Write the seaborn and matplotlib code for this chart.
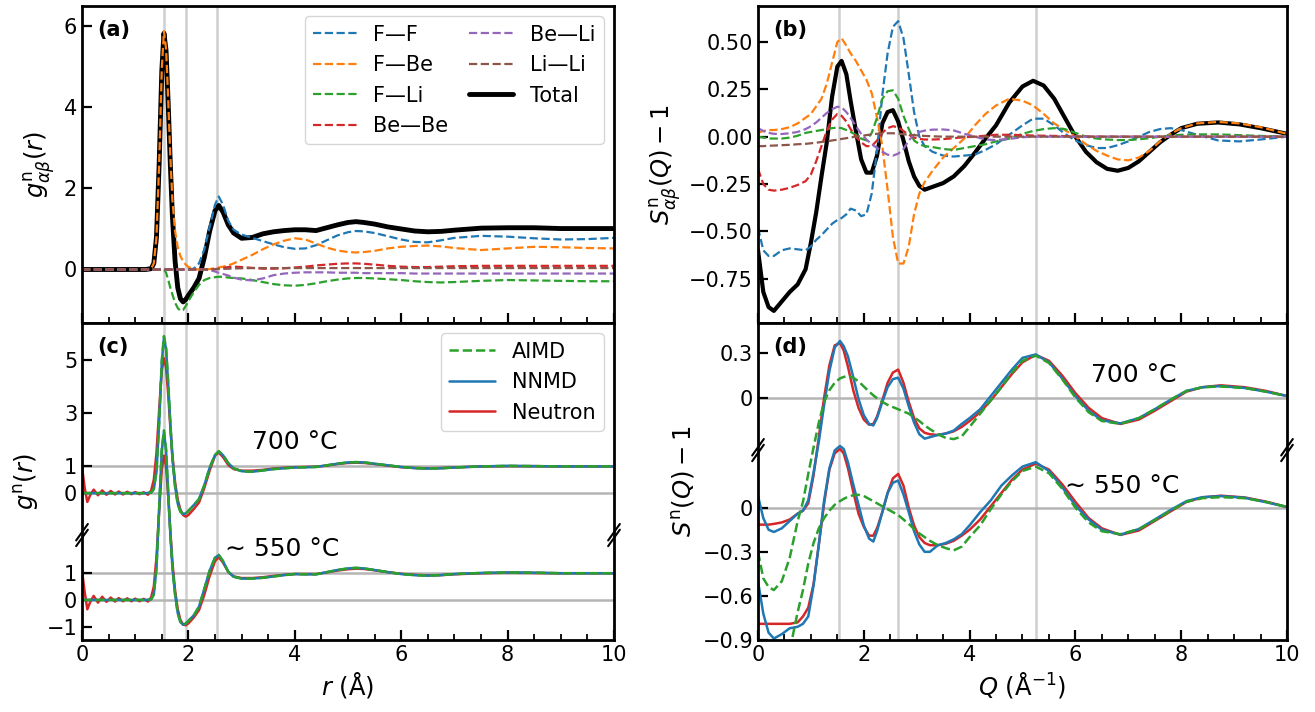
import numpy as np
import matplotlib
matplotlib.use("Agg")
import matplotlib.pyplot as plt
from matplotlib.ticker import MultipleLocator
import seaborn as sns

# ---------------- (a) partial g(r), MD; same r grid used for MD curves in (c)
r_grid = [0, 1.2, 1.3, 1.35, 1.4, 1.45, 1.5, 1.54, 1.58, 1.62,
          1.66, 1.7, 1.75, 1.8, 1.85, 1.9, 1.95, 2.0, 2.1, 2.2,
          2.3, 2.4, 2.5, 2.57, 2.65, 2.75, 2.85, 3.0, 3.2, 3.4,
          3.6, 3.8, 4.0, 4.2, 4.4, 4.6, 4.8, 5.0, 5.15, 5.3,
          5.5, 5.75, 6.0, 6.25, 6.5, 6.75, 7.0, 7.5, 8.0, 8.5,
          9.0, 9.5, 10.0]

g_total = [0, 0, 0.02, 0.15, 0.8, 2.6, 4.9, 5.83, 5.4, 4.1,
           2.6, 1.3, 0.2, -0.45, -0.72, -0.80, -0.74, -0.64, -0.45, -0.22,
           0.3, 0.95, 1.45, 1.58, 1.42, 1.1, 0.9, 0.77, 0.79, 0.88,
           0.93, 0.96, 0.98, 0.98, 0.96, 1.03, 1.1, 1.16, 1.18, 1.16,
           1.12, 1.05, 1.0, 0.95, 0.93, 0.94, 0.97, 1.02, 1.03, 1.03,
           1.01, 1.01, 1.01]
g_FF = [0, 0, 0, 0, 0, 0, 0, 0, 0, 0,
        0, 0, 0, 0, 0, 0, 0, 0, 0.02, 0.15,
        0.5, 1.05, 1.6, 1.8, 1.6, 1.2, 0.98, 0.86, 0.78, 0.7,
        0.62, 0.55, 0.51, 0.52, 0.6, 0.72, 0.84, 0.92, 0.95, 0.94,
        0.9, 0.82, 0.74, 0.68, 0.67, 0.72, 0.78, 0.83, 0.81, 0.77,
        0.74, 0.75, 0.78]
g_FBe = [0, 0, 0.02, 0.15, 0.8, 2.6, 4.95, 5.88, 5.45, 4.2,
         2.8, 1.7, 0.95, 0.55, 0.33, 0.2, 0.12, 0.06, 0.01, 0.0,
         0.0, 0.01, 0.03, 0.05, 0.07, 0.1, 0.15, 0.24, 0.36, 0.5,
         0.62, 0.71, 0.77, 0.74, 0.64, 0.54, 0.47, 0.43, 0.42, 0.43,
         0.46, 0.52, 0.56, 0.58, 0.59, 0.57, 0.53, 0.48, 0.52, 0.56,
         0.55, 0.53, 0.52]
g_FLi = [0, 0, 0, 0, 0, 0, 0, 0, -0.08, -0.25,
         -0.45, -0.62, -0.82, -0.95, -1.02, -1.0, -0.9, -0.78, -0.56, -0.38,
         -0.26, -0.21, -0.19, -0.18, -0.18, -0.2, -0.21, -0.22, -0.26, -0.31,
         -0.36, -0.39, -0.4, -0.38, -0.34, -0.29, -0.25, -0.22, -0.21, -0.21,
         -0.22, -0.24, -0.26, -0.29, -0.31, -0.32, -0.31, -0.28, -0.26, -0.27,
         -0.28, -0.29, -0.29]
g_BeBe = [0, 0, 0, 0, 0, 0, 0, 0, 0, 0,
          0, 0, 0, 0, 0, 0, 0, 0, 0, 0,
          0, 0, 0.01, 0.02, 0.04, 0.06, 0.07, 0.06, 0.04, 0.02,
          0.02, 0.03, 0.05, 0.07, 0.1, 0.12, 0.14, 0.15, 0.15, 0.14,
          0.12, 0.09, 0.07, 0.06, 0.06, 0.07, 0.08, 0.09, 0.09, 0.09,
          0.09, 0.09, 0.09]
g_BeLi = [0, 0, 0, 0, 0, 0, 0, 0, 0, 0,
          0, 0, 0, 0, 0, 0, 0, 0, 0, 0,
          0, -0.01, -0.05, -0.08, -0.11, -0.15, -0.2, -0.25, -0.27, -0.22,
          -0.14, -0.1, -0.08, -0.07, -0.07, -0.07, -0.08, -0.08, -0.08, -0.09,
          -0.09, -0.09, -0.09, -0.1, -0.1, -0.1, -0.1, -0.1, -0.1, -0.1,
          -0.1, -0.1, -0.1]
g_LiLi = [0, 0, 0, 0, 0, 0, 0, 0, 0, 0,
          0, 0, 0, 0, 0, 0, 0, 0, 0, 0,
          0, 0, 0.005, 0.01, 0.015, 0.02, 0.025, 0.03, 0.035, 0.035,
          0.035, 0.035, 0.035, 0.035, 0.035, 0.035, 0.035, 0.035, 0.035, 0.035,
          0.035, 0.035, 0.035, 0.035, 0.035, 0.035, 0.035, 0.035, 0.035, 0.035,
          0.035, 0.035, 0.035]

# ---------------- (b) partial S(Q)-1
q_grid = [0, 0.1, 0.2, 0.3, 0.45, 0.6, 0.75, 0.9, 1.0, 1.1,
          1.2, 1.3, 1.4, 1.5, 1.58, 1.67, 1.75, 1.85, 1.95, 2.05,
          2.15, 2.25, 2.35, 2.45, 2.55, 2.65, 2.75, 2.85, 2.95, 3.05,
          3.15, 3.3, 3.5, 3.7, 3.9, 4.1, 4.3, 4.5, 4.75, 5.0,
          5.2, 5.4, 5.6, 5.8, 6.0, 6.2, 6.4, 6.6, 6.8, 7.0,
          7.2, 7.4, 7.6, 7.8, 8.0, 8.3, 8.7, 9.1, 9.5, 10.0]

s_total = [-0.6, -0.82, -0.9, -0.92, -0.87, -0.82, -0.78, -0.7, -0.56, -0.4,
           -0.21, -0.03, 0.21, 0.37, 0.40, 0.33, 0.19, 0.03, -0.12, -0.19,
           -0.19, -0.1, 0.07, 0.13, 0.14, 0.08, -0.02, -0.13, -0.21, -0.26,
           -0.28, -0.265, -0.245, -0.21, -0.155, -0.085, -0.01, 0.06, 0.18, 0.265,
           0.295, 0.27, 0.2, 0.1, 0.0, -0.08, -0.135, -0.17, -0.18, -0.165,
           -0.13, -0.08, -0.03, 0.01, 0.045, 0.068, 0.075, 0.065, 0.045, 0.015]
s_FF = [-0.48, -0.6, -0.63, -0.63, -0.6, -0.59, -0.595, -0.6, -0.58, -0.545,
        -0.52, -0.49, -0.46, -0.44, -0.43, -0.41, -0.38, -0.39, -0.42, -0.41,
        -0.3, -0.07, 0.22, 0.44, 0.58, 0.61, 0.52, 0.33, 0.13, 0.0,
        -0.05, -0.08, -0.1, -0.105, -0.1, -0.095, -0.07, -0.04, 0.01, 0.06,
        0.095, 0.095, 0.06, 0.015, -0.02, -0.045, -0.06, -0.06, -0.045, -0.025,
        0.0, 0.025, 0.04, 0.045, 0.035, 0.01, -0.02, -0.025, -0.015, 0.0]
s_FBe = [0.02, 0.03, 0.035, 0.035, 0.04, 0.05, 0.07, 0.1, 0.12, 0.16,
         0.2, 0.28, 0.39, 0.5, 0.52, 0.48, 0.44, 0.4, 0.35, 0.3,
         0.23, 0.1, -0.05, -0.28, -0.53, -0.67, -0.67, -0.58, -0.41, -0.3,
         -0.24, -0.18, -0.11, -0.06, -0.01, 0.06, 0.12, 0.165, 0.2, 0.19,
         0.165, 0.12, 0.07, 0.035, 0.0, -0.04, -0.075, -0.1, -0.12, -0.125,
         -0.11, -0.075, -0.025, 0.015, 0.045, 0.07, 0.078, 0.07, 0.05, 0.015]
s_FLi = [0.0, -0.005, -0.01, -0.01, -0.01, -0.005, 0.005, 0.02, 0.025, 0.03,
         0.035, 0.04, 0.045, 0.048, 0.045, 0.035, 0.025, 0.01, -0.01, -0.02,
         0.02, 0.1, 0.2, 0.24, 0.245, 0.2, 0.11, 0.04, -0.02, -0.04,
         -0.05, -0.055, -0.065, -0.07, -0.06, -0.05, -0.04, -0.025, -0.01, 0.015,
         0.03, 0.04, 0.045, 0.04, 0.02, 0.0, -0.01, -0.015, -0.018, -0.018,
         -0.014, -0.008, 0.0, 0.006, 0.01, 0.012, 0.012, 0.008, 0.004, 0.0]
s_BeBe = [-0.17, -0.25, -0.28, -0.285, -0.28, -0.27, -0.255, -0.235, -0.2, -0.13,
          -0.05, 0.03, 0.09, 0.12, 0.11, 0.08, 0.04, 0.0, -0.03, -0.05,
          -0.05, -0.02, 0.02, 0.045, 0.055, 0.05, 0.03, 0.01, -0.005, -0.012,
          -0.015, -0.015, -0.013, -0.008, -0.003, 0.0, 0.005, 0.01, 0.01, 0.008,
          0.006, 0.005, 0.004, 0.003, 0.002, 0.001, 0.0, 0.0, 0.0, 0.0,
          0.0, 0.0, 0.0, 0.0, 0.0, 0.0, 0.0, 0.0, 0.0, 0.0]
s_BeLi = [0.045, 0.03, 0.02, 0.015, 0.014, 0.018, 0.025, 0.04, 0.055, 0.075,
          0.1, 0.125, 0.145, 0.158, 0.155, 0.13, 0.1, 0.055, 0.015, -0.015,
          -0.04, -0.06, -0.08, -0.095, -0.1, -0.09, -0.065, -0.02, 0.01, 0.025,
          0.032, 0.037, 0.038, 0.033, 0.015, 0.0, -0.015, -0.018, -0.012, -0.003,
          0.0, 0.0, 0.0, 0.0, 0.0, 0.0, 0.0, 0.0, 0.0, 0.0,
          0.0, 0.0, 0.0, 0.0, 0.0, 0.0, 0.0, 0.0, 0.0, 0.0]
s_LiLi = [-0.05, -0.05, -0.048, -0.047, -0.045, -0.043, -0.04, -0.038, -0.035, -0.032,
          -0.028, -0.025, -0.02, -0.016, -0.012, -0.008, -0.004, 0.0, 0.004, 0.008,
          0.012, 0.015, 0.017, 0.018, 0.018, 0.016, 0.013, 0.01, 0.008, 0.006,
          0.004, 0.002, 0.0, 0.0, 0.0, 0.0, 0.0, 0.0, 0.0, 0.0,
          0.0, 0.0, 0.0, 0.0, 0.0, 0.0, 0.0, 0.0, 0.0, 0.0,
          0.0, 0.0, 0.0, 0.0, 0.0, 0.0, 0.0, 0.0, 0.0, 0.0]

# ---------------- (c) total g(r): AIMD / NNMD on r_grid, neutron on its own grid
gn_nnmd_700 = [0, 0, 0.02, 0.15, 0.8, 2.6, 4.9, 5.83, 5.4, 4.1,
               2.6, 1.3, 0.25, -0.4, -0.68, -0.78, -0.76, -0.66, -0.45, -0.22,
               0.3, 0.95, 1.42, 1.56, 1.42, 1.12, 0.93, 0.82, 0.8, 0.85,
               0.9, 0.93, 0.96, 0.97, 0.98, 1.04, 1.1, 1.15, 1.16, 1.15,
               1.1, 1.04, 0.98, 0.94, 0.92, 0.93, 0.96, 1.0, 1.02, 1.01,
               1.0, 1.0, 1.0]
gn_aimd_700 = [0, 0, 0.02, 0.16, 0.82, 2.65, 4.95, 5.88, 5.45, 4.15,
               2.62, 1.3, 0.24, -0.42, -0.7, -0.8, -0.77, -0.67, -0.46, -0.22,
               0.3, 0.96, 1.43, 1.57, 1.43, 1.12, 0.93, 0.82, 0.8, 0.85,
               0.9, 0.93, 0.96, 0.97, 0.98, 1.04, 1.1, 1.15, 1.16, 1.15,
               1.1, 1.04, 0.98, 0.94, 0.92, 0.93, 0.96, 1.0, 1.02, 1.01,
               1.0, 1.0, 1.0]
gn_nnmd_550 = [0, 0, 0.02, 0.2, 1.2, 3.4, 5.6, 6.3, 5.6, 4.0,
               2.5, 1.2, 0.2, -0.5, -0.82, -0.93, -0.88, -0.78, -0.58, -0.25,
               0.42, 1.1, 1.58, 1.68, 1.45, 1.05, 0.87, 0.8, 0.8, 0.83,
               0.88, 0.93, 0.97, 0.96, 0.96, 1.04, 1.12, 1.18, 1.2, 1.18,
               1.12, 1.04, 0.97, 0.93, 0.91, 0.93, 0.97, 1.01, 1.03, 1.02,
               1.0, 1.0, 1.0]
gn_aimd_550 = [0, 0, 0.02, 0.21, 1.22, 3.45, 5.65, 6.35, 5.65, 4.05,
               2.52, 1.2, 0.2, -0.5, -0.83, -0.94, -0.89, -0.79, -0.58, -0.25,
               0.42, 1.1, 1.58, 1.69, 1.46, 1.05, 0.87, 0.8, 0.8, 0.83,
               0.88, 0.93, 0.97, 0.96, 0.96, 1.04, 1.12, 1.18, 1.2, 1.18,
               1.12, 1.04, 0.97, 0.93, 0.91, 0.93, 0.97, 1.01, 1.03, 1.02,
               1.0, 1.0, 1.0]

r_neu = [0, 0.05, 0.1, 0.16, 0.22, 0.3, 0.38, 0.46, 0.54, 0.62,
         0.69, 0.77, 0.85, 0.93, 1.0, 1.08, 1.16, 1.24,
         1.3, 1.35, 1.4, 1.45, 1.5, 1.54, 1.58, 1.62, 1.66, 1.7,
         1.75, 1.8, 1.85, 1.9, 1.95, 2.0, 2.1, 2.2, 2.3, 2.4,
         2.5, 2.57, 2.65, 2.75, 2.85, 3.0, 3.2, 3.4, 3.6, 3.8,
         4.0, 4.2, 4.4, 4.6, 4.8, 5.0, 5.15, 5.3, 5.5, 5.75,
         6.0, 6.25, 6.5, 6.75, 7.0, 7.5, 8.0, 8.5, 9.0, 9.5, 10.0]
gn_neu_700 = [1.0, 0.2, -0.33, -0.05, 0.13, -0.08, 0.1, -0.06, 0.08, -0.05,
              0.06, -0.05, 0.05, -0.04, 0.04, -0.04, 0.03, -0.06,
              0.1, 0.5, 1.5, 3.1, 4.6, 5.05, 4.7, 3.7, 2.5, 1.4,
              0.4, -0.25, -0.62, -0.82, -0.88, -0.82, -0.6, -0.35, 0.2, 0.85,
              1.4, 1.52, 1.35, 1.05, 0.9, 0.84, 0.84, 0.87, 0.92, 0.95,
              0.97, 0.98, 0.99, 1.03, 1.09, 1.13, 1.14, 1.13, 1.09, 1.03,
              0.97, 0.94, 0.93, 0.94, 0.96, 1.0, 1.01, 1.01, 1.0, 1.0, 1.0]
gn_neu_550 = [1.1, 0.3, -0.35, -0.05, 0.15, -0.1, 0.12, -0.07, 0.09, -0.06,
              0.07, -0.05, 0.06, -0.05, 0.05, -0.05, 0.04, -0.06,
              0.1, 0.5, 1.6, 3.3, 4.9, 5.4, 5.0, 3.9, 2.6, 1.4,
              0.35, -0.35, -0.75, -0.92, -0.95, -0.88, -0.66, -0.38, 0.2, 0.9,
              1.45, 1.6, 1.4, 1.05, 0.88, 0.82, 0.82, 0.85, 0.9, 0.94,
              0.97, 0.97, 0.97, 1.03, 1.1, 1.15, 1.17, 1.16, 1.11, 1.04,
              0.98, 0.94, 0.92, 0.93, 0.96, 1.0, 1.02, 1.01, 1.0, 1.0, 1.0]

# ---------------- (d) total S(Q)-1
qd_grid = [0, 0.1, 0.2, 0.3, 0.45, 0.6, 0.75, 0.85, 0.95, 1.05,
           1.15, 1.25, 1.35, 1.45, 1.55, 1.62, 1.7, 1.8, 1.9, 2.0,
           2.1, 2.18, 2.25, 2.35, 2.45, 2.55, 2.65, 2.75, 2.85, 2.95,
           3.05, 3.15, 3.25, 3.4, 3.55, 3.7, 3.85, 4.0, 4.2, 4.4,
           4.6, 4.8, 5.0, 5.25, 5.5, 5.75, 6.0, 6.25, 6.5, 6.85,
           7.2, 7.5, 7.8, 8.1, 8.4, 8.75, 9.2, 9.6, 10.0]

sn_nnmd_700 = [-0.67, -0.82, -0.9, -0.915, -0.89, -0.84, -0.79, -0.77, -0.7, -0.51,
               -0.3, -0.05, 0.18, 0.34, 0.385, 0.35, 0.28, 0.14, -0.01, -0.12,
               -0.18, -0.19, -0.14, -0.03, 0.07, 0.125, 0.135, 0.06, -0.06, -0.17,
               -0.25, -0.28, -0.27, -0.255, -0.245, -0.225, -0.18, -0.14, -0.08, 0.01,
               0.1, 0.19, 0.27, 0.293, 0.24, 0.13, 0.01, -0.09, -0.155, -0.176,
               -0.14, -0.08, -0.015, 0.045, 0.07, 0.078, 0.065, 0.04, 0.01]
sn_neu_700 = [-0.865, -0.865, -0.865, -0.86, -0.85, -0.83, -0.79, -0.77, -0.72, -0.53,
              -0.27, 0.0, 0.22, 0.355, 0.37, 0.32, 0.21, 0.05, -0.07, -0.15,
              -0.185, -0.18, -0.13, -0.02, 0.1, 0.17, 0.19, 0.1, -0.03, -0.14,
              -0.21, -0.24, -0.25, -0.255, -0.245, -0.23, -0.2, -0.16, -0.1, -0.02,
              0.07, 0.16, 0.24, 0.29, 0.25, 0.15, 0.03, -0.07, -0.14, -0.18,
              -0.15, -0.09, -0.025, 0.04, 0.07, 0.083, 0.07, 0.045, 0.01]
sn_aimd_700 = [-1.05, -1.23, -1.29, -1.31, -1.25, -1.09, -0.84, -0.71, -0.52, -0.34,
               -0.17, -0.03, 0.05, 0.1, 0.13, 0.14, 0.146, 0.135, 0.11, 0.075,
               0.04, 0.015, -0.005, -0.03, -0.05, -0.065, -0.08, -0.095, -0.11, -0.135,
               -0.16, -0.19, -0.215, -0.25, -0.275, -0.283, -0.265, -0.2, -0.11, -0.02,
               0.07, 0.17, 0.25, 0.285, 0.235, 0.125, 0.0, -0.1, -0.16, -0.18,
               -0.14, -0.08, -0.015, 0.045, 0.07, 0.075, 0.065, 0.04, 0.01]
sn_nnmd_550 = [-0.5, -0.72, -0.85, -0.89, -0.86, -0.82, -0.81, -0.79, -0.74, -0.53,
               -0.25, 0.05, 0.27, 0.39, 0.42, 0.4, 0.31, 0.16, 0.02, -0.12,
               -0.21, -0.23, -0.16, -0.03, 0.1, 0.17, 0.185, 0.09, -0.03, -0.16,
               -0.25, -0.3, -0.3, -0.255, -0.24, -0.215, -0.18, -0.12, -0.03, 0.05,
               0.15, 0.22, 0.28, 0.31, 0.25, 0.14, 0.015, -0.08, -0.15, -0.183,
               -0.145, -0.08, -0.015, 0.045, 0.072, 0.079, 0.068, 0.038, 0.005]
sn_neu_550 = [-0.79, -0.79, -0.79, -0.79, -0.79, -0.79, -0.78, -0.74, -0.68, -0.52,
              -0.25, 0.03, 0.26, 0.37, 0.4, 0.37, 0.27, 0.11, -0.04, -0.13,
              -0.19, -0.19, -0.14, -0.03, 0.1, 0.2, 0.23, 0.15, 0.0, -0.12,
              -0.2, -0.24, -0.255, -0.255, -0.245, -0.225, -0.19, -0.15, -0.08, 0.01,
              0.1, 0.19, 0.26, 0.3, 0.26, 0.16, 0.04, -0.07, -0.14, -0.185,
              -0.155, -0.09, -0.025, 0.04, 0.07, 0.082, 0.07, 0.042, 0.005]
sn_aimd_550 = [-1.45, -1.45, -1.42, -1.38, -1.25, -0.97, -0.71, -0.56, -0.38, -0.24,
               -0.14, -0.07, -0.02, 0.02, 0.045, 0.06, 0.075, 0.085, 0.088, 0.08,
               0.06, 0.045, 0.03, 0.01, -0.01, -0.03, -0.05, -0.08, -0.11, -0.145,
               -0.175, -0.2, -0.225, -0.255, -0.275, -0.29, -0.265, -0.2, -0.12, -0.01,
               0.09, 0.18, 0.25, 0.28, 0.235, 0.13, 0.0, -0.1, -0.16, -0.18,
               -0.145, -0.085, -0.02, 0.04, 0.065, 0.072, 0.065, 0.04, 0.005]

pair_labels = ["F\u2014F", "F\u2014Be", "F\u2014Li", "Be\u2014Be", "Be\u2014Li", "Li\u2014Li"]
r_marks = [1.54, 1.95, 2.54]
q_marks = [1.54, 2.65, 5.25]
off_c = 4.0    # shift of the 700 C curves in (c)
off_d = 0.75   # shift of the 700 C curves in (d)

sns.set_theme(style="ticks")
plt.rcParams.update({
    "axes.edgecolor": "black", "axes.labelcolor": "black", "text.color": "black",
    "xtick.color": "black", "ytick.color": "black",
    "xtick.labelsize": 15, "ytick.labelsize": 15, "axes.labelsize": 17.5,
    "legend.fontsize": 15, "axes.linewidth": 2.0,
})
plt.rcParams["font.family"] = ["DejaVu Sans"]
pal = sns.color_palette("tab10")

W, H = 1315, 712
fig = plt.figure(figsize=(W / 100, H / 100), dpi=100)
ax_a = fig.add_axes([82 / W, 389 / H, 532 / W, 317 / H])
ax_c = fig.add_axes([82 / W, 72 / H, 532 / W, 317 / H])
ax_b = fig.add_axes([758 / W, 389 / H, 529 / W, 317 / H])
ax_d = fig.add_axes([758 / W, 72 / H, 529 / W, 317 / H])

for ax, marks in [(ax_a, r_marks), (ax_c, r_marks), (ax_b, q_marks), (ax_d, q_marks)]:
    for m in marks:
        ax.axvline(m, color="#cfcfcf", lw=1.8, zorder=0)

# (a)
sns.lineplot(x=r_grid, y=g_total, ax=ax_a, color="black", lw=3.5, label="Total")
for lab, vals, col in zip(pair_labels, [g_FF, g_FBe, g_FLi, g_BeBe, g_BeLi, g_LiLi], pal):
    sns.lineplot(x=r_grid, y=vals, ax=ax_a, color=col, lw=1.6, linestyle="--", label=lab)
h, l = ax_a.get_legend_handles_labels()
hd = dict(zip(l, h))
order = pair_labels + ["Total"]
ax_a.legend([hd[k] for k in order], order, loc="upper right", ncol=2, frameon=True,
            handlelength=2.1, columnspacing=1.0)

# (b)
sns.lineplot(x=q_grid, y=s_total, ax=ax_b, color="black", lw=3.0, legend=False)
for vals, col in zip([s_FF, s_FBe, s_FLi, s_BeBe, s_BeLi, s_LiLi], pal):
    sns.lineplot(x=q_grid, y=vals, ax=ax_b, color=col, lw=1.6, linestyle="--", legend=False)

# (c)
for y0 in [0, 1, off_c, off_c + 1]:
    ax_c.axhline(y0, color="#b5b5b5", lw=1.8, zorder=0.5)
sns.lineplot(x=r_neu, y=gn_neu_550, ax=ax_c, color=pal[3], lw=1.8)
sns.lineplot(x=r_neu, y=np.array(gn_neu_700) + off_c, ax=ax_c, color=pal[3], lw=1.8, label="Neutron")
sns.lineplot(x=r_grid, y=gn_nnmd_550, ax=ax_c, color=pal[0], lw=1.8)
sns.lineplot(x=r_grid, y=np.array(gn_nnmd_700) + off_c, ax=ax_c, color=pal[0], lw=1.8, label="NNMD")
sns.lineplot(x=r_grid, y=gn_aimd_550, ax=ax_c, color=pal[2], lw=1.8, linestyle="--")
sns.lineplot(x=r_grid, y=np.array(gn_aimd_700) + off_c, ax=ax_c, color=pal[2], lw=1.8,
             linestyle="--", label="AIMD")
h, l = ax_c.get_legend_handles_labels()
hd = dict(zip(l, h))
order = ["AIMD", "NNMD", "Neutron"]
ax_c.legend([hd[k] for k in order], order, loc="upper right", frameon=True, handlelength=2.2)
ax_c.text(3.2, off_c + 1.9, "700 °C", fontsize=18, va="center")
ax_c.text(2.68, 1.9, "\u223c 550 °C", fontsize=18, va="center")

# (d)
for y0 in [0, off_d]:
    ax_d.axhline(y0, color="#b5b5b5", lw=1.8, zorder=0.5)
sns.lineplot(x=qd_grid, y=sn_neu_550, ax=ax_d, color=pal[3], lw=1.8, legend=False)
sns.lineplot(x=qd_grid, y=np.array(sn_neu_700) + off_d, ax=ax_d, color=pal[3], lw=1.8, legend=False)
sns.lineplot(x=qd_grid, y=sn_nnmd_550, ax=ax_d, color=pal[0], lw=1.8, legend=False)
sns.lineplot(x=qd_grid, y=np.array(sn_nnmd_700) + off_d, ax=ax_d, color=pal[0], lw=1.8, legend=False)
sns.lineplot(x=qd_grid, y=sn_aimd_550, ax=ax_d, color=pal[2], lw=1.8, linestyle="--", legend=False)
sns.lineplot(x=qd_grid, y=np.array(sn_aimd_700) + off_d, ax=ax_d, color=pal[2], lw=1.8,
             linestyle="--", legend=False)
ax_d.text(6.3, off_d + 0.15, "700 °C", fontsize=18, va="center")
ax_d.text(5.8, 0.15, "\u223c 550 °C", fontsize=18, va="center")

# axes cosmetics
ax_a.set_ylim(-1.32, 6.5)
ax_a.set_yticks([0, 2, 4, 6])
ax_b.set_ylim(-0.984, 0.69)
ax_b.set_yticks([-0.75, -0.5, -0.25, 0, 0.25, 0.5])
ax_c.set_ylim(-1.5, 10.37)
ax_c.set_yticks([-1, 0, 1, off_c, off_c + 1, off_c + 3, off_c + 5])
ax_c.set_yticklabels(["\u22121", "0", "1", "0", "1", "3", "5"])
ax_d.set_ylim(-0.9, 1.257)
ax_d.set_yticks([-0.9, -0.6, -0.3, 0, off_d, off_d + 0.3])
ax_d.set_yticklabels(["\u22120.9", "\u22120.6", "\u22120.3", "0", "0", "0.3"])

ax_a.set_ylabel(r"$g^{\mathrm{n}}_{\alpha\beta}(r)$")
ax_b.set_ylabel(r"$S^{\mathrm{n}}_{\alpha\beta}(Q) - 1$")
ax_c.set_ylabel(r"$g^{\mathrm{n}}(r)$")
ax_d.set_ylabel(r"$S^{\mathrm{n}}(Q) - 1$")
ax_c.set_xlabel(r"$r$ (Å)")
ax_d.set_xlabel(r"$Q$ (Å$^{-1}$)")
ax_a.set_xlabel("")
ax_b.set_xlabel("")

for ax, letter in [(ax_a, "(a)"), (ax_b, "(b)"), (ax_c, "(c)"), (ax_d, "(d)")]:
    ax.set_xlim(0, 10)
    ax.xaxis.set_major_locator(MultipleLocator(2))
    ax.xaxis.set_minor_locator(MultipleLocator(0.5))
    ax.tick_params(which="major", direction="in", length=7, width=1.6)
    ax.tick_params(which="minor", direction="in", length=4, width=1.3)
    ax.tick_params(axis="y", which="minor", left=False)
    for s in ax.spines.values():
        s.set_linewidth(2.0)
    ax.text(0.028, 0.925, letter, transform=ax.transAxes, fontsize=15,
            fontweight="bold", va="center")
ax_a.tick_params(labelbottom=False)
ax_b.tick_params(labelbottom=False)


def add_break(ax, yf):
    dx, dy = 0.011, 0.026
    for x0 in (0, 1):
        for o in (-0.009, 0.009):
            ax.plot([x0 - dx, x0 + dx], [yf - dy + o, yf + dy + o], transform=ax.transAxes,
                    color="black", lw=1.5, clip_on=False, zorder=5)


add_break(ax_c, 0.331)
add_break(ax_d, 0.599)

fig.savefig("out.png", dpi=100)
